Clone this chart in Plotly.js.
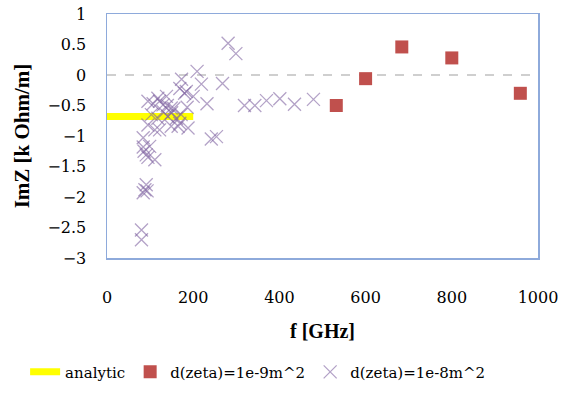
<!DOCTYPE html>
<html>
<head>
<meta charset="utf-8">
<script src="https://cdn.plot.ly/plotly-3.0.1.min.js"></script>
<style>html,body{margin:0;padding:0;background:#fff;}#chart{width:570px;height:401px;}</style>
</head>
<body>
<div id="chart"></div>
<script>
// analytic
var analyticX = [0, 200];
var analyticY = [-0.68, -0.68];
// d(zeta)=1e-9m^2
var fine9X = [532, 600, 684, 800, 959];
var fine9Y = [-0.50, -0.06, 0.46, 0.28, -0.30];
// d(zeta)=1e-8m^2
var coarse8X = [80, 80, 84, 91, 88, 93, 86, 91, 84, 99, 111, 95, 84, 95, 111, 122, 103, 118, 141, 161,
  95, 118, 138, 130, 149, 107, 122, 130, 150, 149, 165, 169, 173, 169, 184, 188, 186, 180, 200, 209,
  219, 232, 242, 254, 268, 281, 299, 319, 343, 370, 401, 435, 479, 155, 140, 172];
var coarse8Y = [-2.70, -2.54, -1.93, -1.80, -1.88, -1.90, -1.25, -1.31, -1.18, -1.17, -1.39, -1.35, -1.03, -0.82, -0.90, -0.90, -0.65, -0.71, -0.68, -0.71,
  -0.43, -0.38, -0.35, -0.49, -0.54, -0.47, -0.43, -0.60, -0.62, -0.84, -0.84, -0.79, -0.07, -0.22, -0.27, -0.87, -0.53, -0.30, -0.35, 0.06,
  -0.15, -0.47, -1.05, -1.01, -0.14, 0.52, 0.35, -0.50, -0.50, -0.42, -0.39, -0.48, -0.40, -0.55, -0.50, -0.65];

var serif = 'Liberation Serif';
var serifR = 'DejaVu Serif';
var traces = [
  {x: analyticX, y: analyticY, mode: 'lines', name: 'analytic',
   line: {color: '#FFFF00', width: 7}},
  {x: fine9X, y: fine9Y, mode: 'markers', name: 'd(zeta)=1e-9m^2',
   marker: {symbol: 'square', size: 13, color: '#C0504D'}},
  {x: coarse8X, y: coarse8Y, mode: 'markers', name: 'd(zeta)=1e-8m^2',
   marker: {symbol: 'x-thin-open', size: 13, color: 'rgba(128,100,162,0.6)', line: {color: 'rgba(128,100,162,0.6)', width: 1.3}}}
];
var layout = {
  width: 570, height: 401,
  margin: {l: 107, r: 32, t: 14, b: 143},
  paper_bgcolor: '#fff', plot_bgcolor: '#fff',
  font: {family: serifR, size: 16, color: '#000'},
  showlegend: true,
  legend: {orientation: 'h', x: -0.19, xanchor: 'left', y: -0.40, yanchor: 'top',
    font: {family: serifR, size: 15}, bgcolor: 'rgba(0,0,0,0)'},
  xaxis: {range: [0, 1000], dtick: 200, showgrid: false, zeroline: false, automargin: false,
    showline: true, mirror: true, linecolor: '#8EAADB', linewidth: 1.5,
    ticks: '', ticklabelstandoff: 24, tickfont: {family: serifR, size: 16},
    title: {text: '<b>f [GHz]</b>', font: {family: serif, size: 20}, standoff: 18}},
  yaxis: {range: [-3, 1], dtick: 0.5, showgrid: false, zeroline: false, automargin: false,
    showline: true, mirror: true, linecolor: '#8EAADB', linewidth: 1.5,
    ticks: '', ticklabelstandoff: 16, tickfont: {family: serifR, size: 16},
    title: {text: '<b>ImZ [k Ohm/m]</b>', font: {family: serif, size: 21}, standoff: 12}},
  shapes: [{type: 'line', xref: 'paper', x0: 0, x1: 1, yref: 'y', y0: 0, y1: 0,
    line: {color: '#A0A0A0', width: 1.2, dash: 'dash'}, layer: 'below'}]
};
Plotly.newPlot('chart', traces, layout, {displayModeBar: false, staticPlot: true});
</script>
</body>
</html>
